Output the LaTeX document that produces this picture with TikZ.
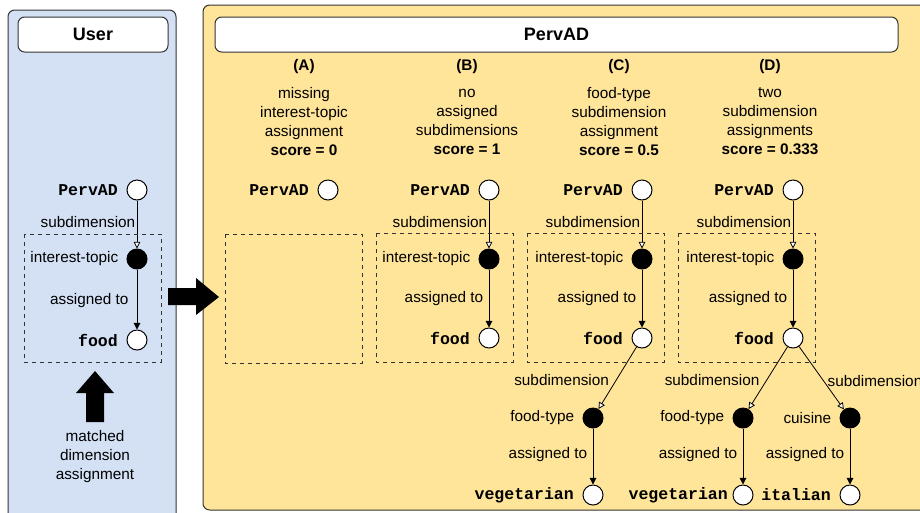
\documentclass[tikz,border=0pt]{standalone}
\usepackage{fontspec}
\setmainfont{Liberation Sans}
\setmonofont{Liberation Mono}
\usetikzlibrary{arrows.meta}

\definecolor{userblue}{HTML}{D4E1F5}
\definecolor{adyellow}{HTML}{FFE599}
\definecolor{linegray}{HTML}{333333}

\tikzset{
  panel/.style={draw=linegray, line width=0.75pt, rounded corners=5pt},
  header/.style={draw=linegray, fill=white, line width=0.75pt, rounded corners=5pt, minimum height=26.25pt, font=\fontsize{13.5}{16}\selectfont\bfseries},
  entity/.style={circle, draw=black, fill=white, line width=0.75pt, minimum size=15pt, inner sep=0pt},
  concept/.style={entity, fill=black},
  code/.style={font=\fontsize{12.4}{14}\selectfont\ttfamily\bfseries},
  lbl/.style={font=\fontsize{11.5}{14}\selectfont, inner sep=1pt},
  title/.style={align=center, inner sep=0pt, font=\fontsize{11.5}{14.25}\selectfont},
  codelbl/.style={label={[code, label distance=3pt]left:#1}},
  textlbl/.style={label={[lbl, label distance=5pt]left:#1}},
  group/.style={draw=linegray, dashed, line width=0.6pt},
  subdim/.style={-{Triangle[length=5pt, width=5pt, fill=white]}, draw=black, line width=0.6pt},
  assign/.style={-{Triangle[length=5pt, width=5pt]}, draw=black, line width=0.75pt}
}

\begin{document}
\begin{tikzpicture}[x=0.75pt, y=-0.75pt]
  \useasboundingbox (0,0) rectangle (920,512);

  % Panels
  \draw[panel, fill=userblue] (8,10) rectangle (176,545);
  \draw[panel, fill=adyellow] (203,5) rectangle (945,510);
  \node[header, minimum width=112.5pt] (userhead) at (93,34.5) {User};
  \node[header, minimum width=512.25pt] (adhead) at (556.5,34.5) {PervAD};

  % User side
  \node[entity, codelbl=PervAD] (u0) at (137,190) {};
  \node[concept, textlbl=interest-topic] (u1) at (137,259) {};
  \node[entity, codelbl=food] (u2) at (137,340) {};
  \draw[subdim] (u0) -- node[lbl, pos=0.45, left] {subdimension} (u1);
  \draw[assign] (u1) -- node[lbl, pos=0.51, left=5pt] {assigned to} (u2);
  \draw[group] (24,234) rectangle (161,362);

  \node[title] (matched) at (95,457) {matched\\dimension\\assignment};
  \fill (95,371) -- (114,393) -- (104,393) -- (104,422) -- (86,422) -- (86,393) -- (76,393) -- cycle;

  % Arrow into PervAD
  \fill (219,297) -- (196,278) -- (196,288) -- (168,288) -- (168,305) -- (196,305) -- (196,315) -- cycle;

  % Titles
  \node[title, font=\fontsize{11.5}{14.25}\selectfont\bfseries] (ha) at (304,67) {(A)};
  \node[title] (ta) at (304,121.5) {missing\\interest-topic\\assignment\\\textbf{score = 0}};
  \node[title, font=\fontsize{11.5}{14.25}\selectfont\bfseries] (hb) at (467,67) {(B)};
  \node[title] (tb) at (467,121.5) {no\\assigned\\subdimensions\\\textbf{score = 1}};
  \node[title, font=\fontsize{11.5}{14.25}\selectfont\bfseries] (hc) at (619,67) {(C)};
  \node[title] (tc) at (619,121.5) {food-type\\subdimension\\assignment\\\textbf{score = 0.5}};
  \node[title, font=\fontsize{11.5}{14.25}\selectfont\bfseries] (hd) at (770,67) {(D)};
  \node[title] (td) at (770,121.5) {two\\subdimension\\assignments\\\textbf{score = 0.333}};

  % (A)
  \node[entity, codelbl=PervAD] (a0) at (328,190) {};
  \draw[group] (225,234) rectangle (362,363);

  % (B)
  \node[entity, codelbl=PervAD] (b0) at (489,190) {};
  \node[concept, textlbl=interest-topic] (b1) at (489,259) {};
  \node[entity, codelbl=food] (b2) at (489,338) {};
  \draw[subdim] (b0) -- node[lbl, pos=0.45, left] {subdimension} (b1);
  \draw[assign] (b1) -- node[lbl, pos=0.5, left=3pt] {assigned to} (b2);
  \draw[group] (376,233) rectangle (513,362);

  % (C)
  \node[entity, codelbl=PervAD] (c0) at (642,190) {};
  \node[concept, textlbl=interest-topic] (c1) at (642,259) {};
  \node[entity, codelbl=food] (c2) at (642,338) {};
  \node[concept, textlbl=food-type] (c3) at (593,418) {};
  \node[entity, codelbl=vegetarian] (c4) at (593,495) {};
  \draw[subdim] (c0) -- node[lbl, pos=0.45, left] {subdimension} (c1);
  \draw[assign] (c1) -- node[lbl, pos=0.5, left=3pt] {assigned to} (c2);
  \draw[subdim] (c2) -- node[lbl, pos=0.54, left=4pt] {subdimension} (c3);
  \draw[assign] (c3) -- node[lbl, pos=0.47, left=3pt] {assigned to} (c4);
  \draw[group] (527,233) rectangle (664,362);

  % (D)
  \node[entity, codelbl=PervAD] (d0) at (793,190) {};
  \node[concept, textlbl=interest-topic] (d1) at (793,259) {};
  \node[entity, codelbl=food] (d2) at (793,338) {};
  \node[concept, textlbl=food-type] (d3) at (743,418) {};
  \node[entity, label={[code, label distance=0pt]left:vegetarian}] (d4) at (743,495) {};
  \node[concept, textlbl=cuisine] (d5) at (850,418) {};
  \node[entity, codelbl=italian] (d6) at (850,495) {};
  \draw[subdim] (d0) -- node[lbl, pos=0.45, left] {subdimension} (d1);
  \draw[assign] (d1) -- node[lbl, pos=0.5, left=3pt] {assigned to} (d2);
  \draw[subdim] (d2) -- node[lbl, pos=0.54, left=4pt] {subdimension} (d3);
  \draw[assign] (d3) -- node[lbl, pos=0.47, left=3pt] {assigned to} (d4);
  \draw[subdim] (d2) -- node[lbl, pos=0.54, right=2pt] {subdimension} (d5);
  \draw[assign] (d5) -- node[lbl, pos=0.47, left=3pt] {assigned to} (d6);
  \draw[group] (678,233) rectangle (815,362);

\end{tikzpicture}
\end{document}
